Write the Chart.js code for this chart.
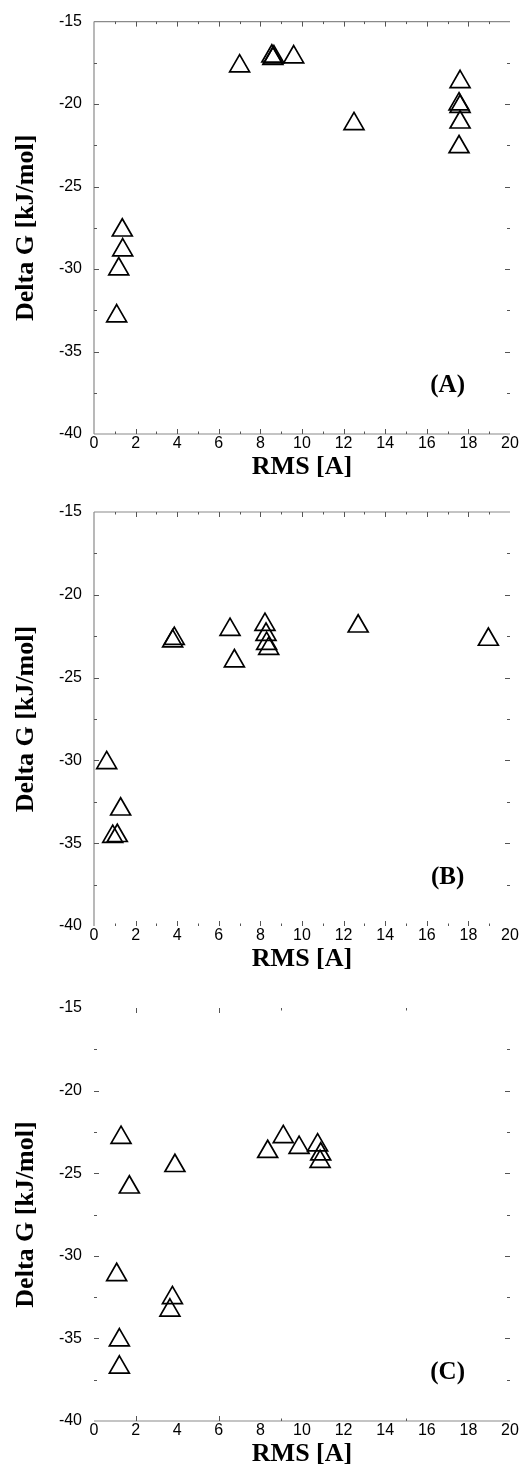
<!DOCTYPE html>
<html lang="en">
<head>
  <meta charset="UTF-8" />
  <title>Delta G vs RMS</title>
  <script src="https://cdn.jsdelivr.net/npm/chart.js"></script>
  <style>
    body {
      margin: 0;
      background: #fff;
    }
    .panel {
      position: absolute;
      left: 0;
      width: 530px;
    }
  </style>
</head>
<body>

  <div class="panel" style="top:0;height:480px;"><canvas id="chartA"></canvas></div>
  <div class="panel" style="top:480px;height:492px;"><canvas id="chartB"></canvas></div>
  <div class="panel" style="top:972px;height:495px;"><canvas id="chartC"></canvas></div>

  <script>
    // Panel (A)
    const rmsA = [7.0, 8.55, 8.6, 8.65, 9.6, 12.5, 17.6, 17.55, 17.6, 17.6, 17.55, 1.36, 1.38, 1.19, 1.09];
    const dgA  = [-17.7, -17.1, -17.25, -17.15, -17.15, -21.2, -18.65, -20.0, -20.15, -21.1, -22.6, -27.65, -28.85, -30.0, -32.85];

    // Panel (B)
    const rmsB = [0.61, 1.28, 0.9, 1.12, 3.78, 3.86, 6.54, 6.75, 8.22, 8.27, 8.3, 8.4, 12.7, 18.96];
    const dgB  = [-30.15, -32.95, -34.6, -34.55, -22.8, -22.65, -22.1, -24.0, -21.8, -22.4, -22.95, -23.25, -21.9, -22.7];

    // Panel (C)
    const rmsC = [1.3, 1.7, 3.89, 1.09, 3.77, 3.65, 1.22, 1.22, 8.35, 9.1, 9.86, 10.75, 10.9, 10.87];
    const dgC  = [-22.85, -25.85, -24.55, -31.15, -32.55, -33.3, -35.1, -36.75, -23.7, -22.8, -23.45, -23.3, -23.85, -24.3];

    const xTicksAll = [1,2,3,4,5,6,7,8,9,10,11,12,13,14,15,16,17,18,19];
    const xTicksC = [2, 6, 9, 15];
    const yTicksAll = [-37.5, -35, -32.5, -30, -27.5, -25, -22.5, -20, -17.5];

    // frame and inward tick marks, drawn from the chart's own scales
    const framePlugin = {
      id: 'frame',
      beforeDatasetsDraw(chart, args, opts) {
        const {ctx, chartArea: a, scales: {x, y}} = chart;
        ctx.save();
        ctx.strokeStyle = '#8a8a8a';
        ctx.lineWidth = 1.2;
        ctx.beginPath();
        if (opts.top) { ctx.moveTo(a.left, a.top); ctx.lineTo(a.right, a.top); }
        if (opts.left) { ctx.moveTo(a.left, a.top); ctx.lineTo(a.left, a.bottom); }
        if (opts.bottom) { ctx.moveTo(a.left, a.bottom); ctx.lineTo(a.right, a.bottom); }
        ctx.stroke();

        ctx.strokeStyle = '#555';
        ctx.lineWidth = 1;
        ctx.beginPath();
        opts.xTicks.forEach(v => {
          const px = Math.round(x.getPixelForValue(v)) + 0.5;
          const len = v % 2 === 0 ? 5 : 2.5;
          ctx.moveTo(px, a.top); ctx.lineTo(px, a.top + len);
          ctx.moveTo(px, a.bottom); ctx.lineTo(px, a.bottom - len);
        });
        opts.yTicks.forEach(v => {
          const py = Math.round(y.getPixelForValue(v)) + 0.5;
          const len = v % 5 === 0 ? 5 : 3;
          ctx.moveTo(a.left, py); ctx.lineTo(a.left + len, py);
          ctx.moveTo(a.right, py); ctx.lineTo(a.right - len, py);
        });
        ctx.stroke();
        ctx.restore();
      },
      afterDatasetsDraw(chart, args, opts) {
        const {ctx, scales: {x, y}} = chart;
        ctx.save();
        ctx.fillStyle = '#000';
        ctx.font = 'bold 25px "Liberation Serif"';
        ctx.textAlign = 'center';
        ctx.textBaseline = 'middle';
        ctx.fillText(opts.label, x.getPixelForValue(17), y.getPixelForValue(-37.05));
        ctx.restore();
      }
    };

    function makePanel(id, xs, ys, label, padTop, frame) {
      const points = xs.map((v, i) => ({x: v, y: ys[i]}));
      return new Chart(document.getElementById(id), {
        type: 'scatter',
        data: {
          datasets: [{
            data: points,
            pointStyle: 'triangle',
            pointRadius: 11.5,
            pointBorderWidth: 1.7,
            pointBorderColor: '#000',
            pointBackgroundColor: 'rgba(255,255,255,0)'
          }]
        },
        options: {
          responsive: true,
          maintainAspectRatio: false,
          animation: false,
          layout: { padding: { top: padTop, right: 20, left: 0, bottom: 0 } },
          plugins: {
            legend: { display: false },
            tooltip: { enabled: false },
            frame: Object.assign({ label: label }, frame)
          },
          scales: {
            x: {
              type: 'linear',
              min: 0,
              max: 20,
              grid: { display: false, drawTicks: false },
              border: { display: false },
              ticks: {
                stepSize: 2,
                autoSkip: false,
                maxRotation: 0,
                padding: 0,
                color: '#000',
                font: { family: 'Liberation Sans', size: 16 }
              },
              title: {
                display: true,
                text: 'RMS [A]',
                color: '#000',
                font: { family: 'Liberation Serif', size: 26, weight: 'bold', lineHeight: 1 },
                padding: { top: 0, bottom: 0 }
              },
              afterFit(s) { s.height = 46; }
            },
            y: {
              min: -40,
              max: -15,
              grid: { display: false, drawTicks: false },
              border: { display: false },
              ticks: {
                stepSize: 5,
                padding: 12,
                color: '#000',
                font: { family: 'Liberation Sans', size: 16 }
              },
              title: {
                display: true,
                text: 'Delta G [kJ/mol]',
                color: '#000',
                font: { family: 'Liberation Serif', size: 26, weight: 'bold', lineHeight: 1 },
                padding: { top: 13, bottom: 0 }
              },
              afterFit(s) { s.width = 94; }
            }
          }
        },
        plugins: [framePlugin]
      });
    }

    makePanel('chartA', rmsA, dgA, '(A)', 20,
      { top: true, left: true, bottom: true, xTicks: xTicksAll, yTicks: yTicksAll });
    makePanel('chartB', rmsB, dgB, '(B)', 32,
      { top: true, left: true, bottom: false, xTicks: xTicksAll, yTicks: yTicksAll });
    makePanel('chartC', rmsC, dgC, '(C)', 36,
      { top: false, left: false, bottom: true, xTicks: xTicksC, yTicks: yTicksAll });
  </script>

</body>
</html>
